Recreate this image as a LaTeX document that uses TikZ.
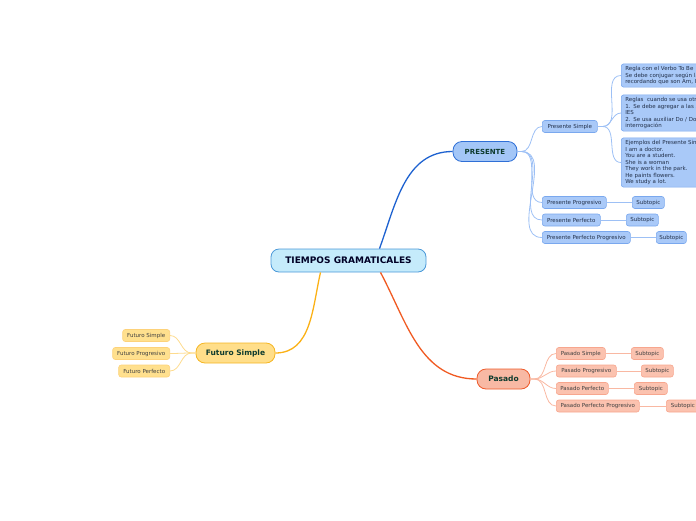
\documentclass[tikz,border=0pt]{standalone}
\usepackage{fontspec}
\setmainfont{DejaVu Sans}
\usepackage{tikz}
\usetikzlibrary{calc}
\definecolor{rootfill}{HTML}{C5EBFB}
\definecolor{rootdraw}{HTML}{4A98D8}
\definecolor{presfill}{HTML}{A3C6F7}
\definecolor{presdraw}{HTML}{2F6FD6}
\definecolor{presline}{HTML}{1E62D0}
\definecolor{presleaf}{HTML}{A9C9F8}
\definecolor{presleafdraw}{HTML}{7AA8EE}
\definecolor{presleafline}{HTML}{9DC0F5}
\definecolor{pasfill}{HTML}{F8B9A4}
\definecolor{pasdraw}{HTML}{EE5A2A}
\definecolor{pasline}{HTML}{F05A22}
\definecolor{pasleaf}{HTML}{FBC2AF}
\definecolor{pasleafdraw}{HTML}{F7A68E}
\definecolor{pasleafline}{HTML}{F9B8A2}
\definecolor{futfill}{HTML}{FFDE8A}
\definecolor{futdraw}{HTML}{F5B623}
\definecolor{futline}{HTML}{FBB116}
\definecolor{futleaf}{HTML}{FFE08E}
\definecolor{futleafdraw}{HTML}{FDD27A}
\definecolor{futleafline}{HTML}{FDDB8E}
\definecolor{maintext}{HTML}{0E3B2E}
\definecolor{leaftext}{HTML}{22304A}
\tikzset{
  leafbox/.style={rounded corners=2.5pt,line width=0.6pt,font=\fontsize{5.5}{6.5}\selectfont,
    text=leaftext,minimum height=12pt,inner xsep=3pt,inner ysep=0pt,anchor=west},
  presleafbox/.style={leafbox,fill=presleaf,draw=presleafdraw},
  pasleafbox/.style={leafbox,fill=pasleaf,draw=pasleafdraw,text=black!75},
  futleafbox/.style={leafbox,fill=futleaf,draw=futleafdraw,text=black!75},
  notebox/.style={presleafbox,align=left,text width=150pt,inner xsep=4pt,inner ysep=2.5pt,
    font=\fontsize{5.5}{6.5}\selectfont},
  topicbox/.style={rounded corners=9pt,line width=0.8pt,font=\bfseries\fontsize{7}{8}\selectfont,
    text=maintext,minimum height=20pt,inner xsep=6pt},
  thinline/.style={line width=0.8pt},
  mainline/.style={line width=1.3pt}
}
\begin{document}
\begin{tikzpicture}[x=1pt,y=-1pt]
\useasboundingbox (0,0) rectangle (696,520);
\clip (0,0) rectangle (696,520);
% ---- central topic ----
\node[rounded corners=8pt,line width=0.8pt,fill=rootfill,draw=rootdraw,
  font=\bfseries\fontsize{9}{10}\selectfont,text=black!85!blue,
  minimum width=155pt,minimum height=23pt] (root) at (348.5,260.5) {TIEMPOS GRAMATICALES};
% ---- main branches ----
\node[topicbox,fill=presfill,draw=presdraw,minimum width=64pt] (pres) at (485,151.5) {PRESENTE};
\node[topicbox,fill=pasfill,draw=pasdraw,minimum width=53pt,font=\bfseries\fontsize{7.5}{8}\selectfont] (pas) at (503.5,379) {Pasado};
\node[topicbox,fill=futfill,draw=futdraw,minimum width=79pt,font=\bfseries\fontsize{7.5}{8}\selectfont] (fut) at (235.5,353) {Futuro Simple};
\draw[mainline,presline] ([xshift=31pt]root.north) to[out=70,in=180] (pres.west);
\draw[mainline,pasline] ([xshift=32pt]root.south) to[out=-62,in=180] (pas.west);
\draw[mainline,futline] ([xshift=-28pt]root.south) to[out=-103,in=0] (fut.east);
% ---- presente ----
\node[presleafbox,minimum width=55pt] (ps) at (542,126.5) {Presente Simple};
\node[presleafbox,minimum width=64pt] (pp) at (542,202.5) {Presente Progresivo};
\node[presleafbox,minimum width=58pt] (pf) at (542,220) {Presente Perfecto};
\node[presleafbox,minimum width=88pt] (pfp) at (542,237.5) {Presente Perfecto Progresivo};
\node[presleafbox,minimum width=32pt] (pp1) at (632,202.5) {Subtopic};
\node[presleafbox,minimum width=32pt] (pf1) at (626,220) {Subtopic};
\node[presleafbox,minimum width=30pt] (pfp1) at (656,237.5) {Subtopic};
\foreach \c in {ps,pp,pf,pfp}
  \draw[thinline,presleafline] (pres.east) -- ++(4,0) to[out=0,in=180] (\c.west);
\draw[thinline,presleafline] (pp.east) -- (pp1.west);
\draw[thinline,presleafline] (pf.east) -- (pf1.west);
\draw[thinline,presleafline] (pfp.east) -- (pfp1.west);
% notes of Presente Simple
\node[notebox] (n1) at (621,75.5) {Regla con el Verbo To Be\\Se debe conjugar según la persona\\recordando que son Am, Is, Are};
\node[notebox] (n2) at (621,113) {Reglas~ cuando se usa otros verbos\\1. Se debe agregar a las 3ras personas S o\\IES\\2. Se usa auxiliar Do / Does para negación e\\interrogación};
\node[notebox] (n3) at (621,162.5) {Ejemplos del Presente Simple\\I am a doctor.\\You are a student.\\She is a woman\\They work in the park.\\He paints flowers.\\We study a lot.};
\foreach \c in {n1,n2,n3}
  \draw[thinline,presleafline] (ps.east) -- ++(5,0) to[out=0,in=180] (\c.west);
% ---- pasado ----
\node[pasleafbox,minimum width=49pt] (as) at (556,353.5) {Pasado Simple};
\node[pasleafbox,minimum width=60pt] (ap) at (556,371) {Pasado Progresivo};
\node[pasleafbox,minimum width=52pt] (af) at (556,388.5) {Pasado Perfecto};
\node[pasleafbox,minimum width=83pt] (afp) at (556,406) {Pasado Perfecto Progresivo};
\node[pasleafbox,minimum width=32pt] (as1) at (631,353.5) {Subtopic};
\node[pasleafbox,minimum width=32pt] (ap1) at (641,371) {Subtopic};
\node[pasleafbox,minimum width=33pt] (af1) at (634,388.5) {Subtopic};
\node[pasleafbox,minimum width=33pt] (afp1) at (666,406) {Subtopic};
\foreach \c in {as,ap,af,afp}
  \draw[thinline,pasleafline] (pas.east) -- ++(4,0) to[out=0,in=180] (\c.west);
\draw[thinline,pasleafline] (as.east) -- (as1.west);
\draw[thinline,pasleafline] (ap.east) -- (ap1.west);
\draw[thinline,pasleafline] (af.east) -- (af1.west);
\draw[thinline,pasleafline] (afp.east) -- (afp1.west);
% ---- futuro ----
\node[futleafbox,anchor=east,minimum width=47pt] (fs) at (170,335.5) {Futuro Simple};
\node[futleafbox,anchor=east,minimum width=57pt] (fp) at (170,353.5) {Futuro Progresivo};
\node[futleafbox,anchor=east,minimum width=51pt] (ff) at (170,371) {Futuro Perfecto};
\foreach \c in {fs,fp,ff}
  \draw[thinline,futleafline] (fut.west) -- ++(-4,0) to[out=180,in=0] (\c.east);
\end{tikzpicture}
\end{document}
